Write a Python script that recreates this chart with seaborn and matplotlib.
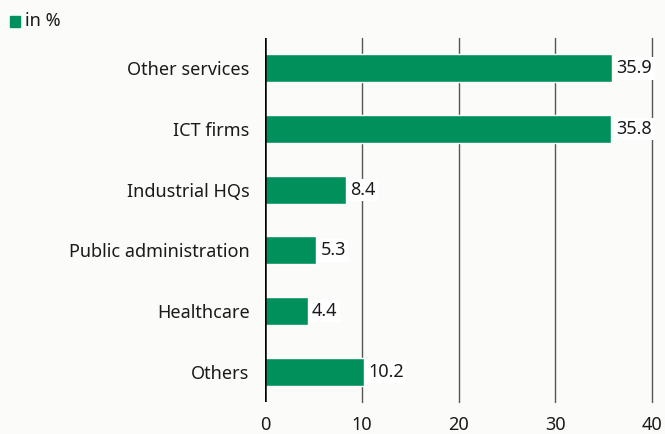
import matplotlib
matplotlib.use("Agg")
import matplotlib.pyplot as plt
import seaborn as sns
import pandas as pd

categories = ["Other services", "ICT firms", "Industrial HQs", "Public administration", "Healthcare", "Others"]
values = [35.9, 35.8, 8.4, 5.3, 4.4, 10.2]
value_labels = ["35.9", "35.8", "8.4", "5.3", "4.4", "10.2"]
x_ticks = [0, 10, 20, 30, 40]

GREEN = "#00905c"
BG = "#fbfbf9"
TXT = "#1a1a1a"

sns.set_theme(style="white")
plt.rcParams['font.family'] = ['Noto Sans', 'DejaVu Sans']

df = pd.DataFrame({"category": categories, "value": values})

fig = plt.figure(figsize=(6.65, 4.34), dpi=100, facecolor=BG)
ax = fig.add_axes([265/665, 1-402/434, (652-265)/665, (402-38)/434])
ax.set_facecolor(BG)

sns.barplot(data=df, x="value", y="category", color=GREEN, width=0.46, ax=ax,
            saturation=1, order=categories)

ax.set_xlim(0, 40)
ax.set_ylim(5.5, -0.5)
ax.set_xticks(x_ticks)
ax.set_xticklabels([str(t) for t in x_ticks], fontsize=13, color=TXT)
ax.tick_params(axis="x", length=0, pad=10)
ax.tick_params(axis="y", length=0, pad=11, labelsize=13, labelcolor=TXT)
for t in x_ticks[1:]:
    ax.axvline(t, color="#555555", lw=1.0, zorder=0, clip_on=False)
ax.axvline(0, color="black", lw=1.8, zorder=3)
for s in ax.spines.values():
    s.set_visible(False)
ax.set_xlabel("")
ax.set_ylabel("")

for i, (v, lab) in enumerate(zip(values, value_labels)):
    ax.text(v + 0.45, i, lab, va="center", ha="left", fontsize=13, color=TXT,
            bbox=dict(boxstyle="square,pad=0.12", fc="white", ec="none"), zorder=5)

fig.patches.append(matplotlib.patches.Rectangle((10/665, 1-27/434), 10/665, 11/434,
                                                transform=fig.transFigure, color=GREEN))
fig.text(25/665, 1-21/434, "in %", fontsize=13, va="center", ha="left", color=TXT)

fig.savefig("out.png", dpi=100, facecolor=BG)
